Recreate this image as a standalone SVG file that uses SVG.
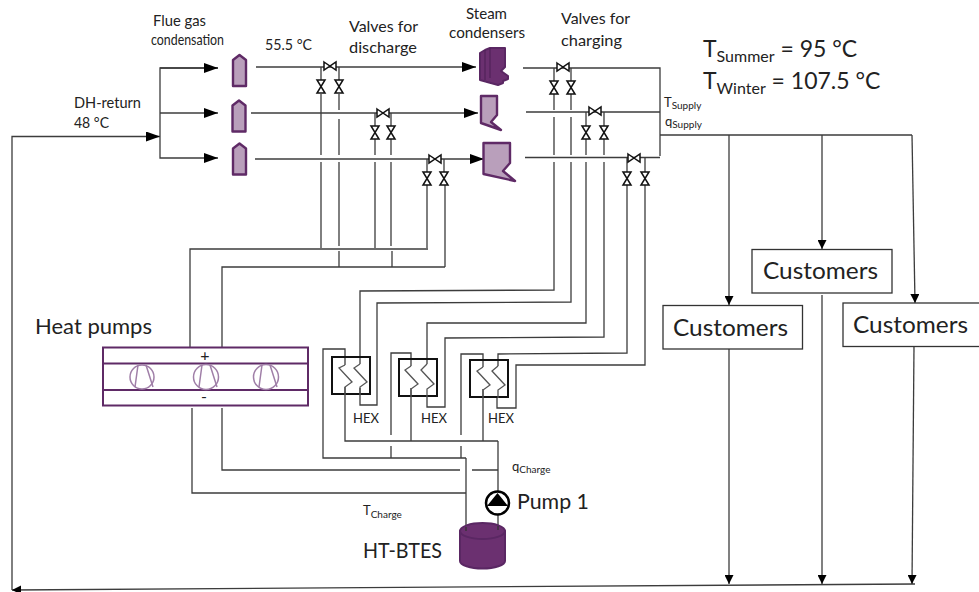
<svg xmlns="http://www.w3.org/2000/svg" xmlns:xlink="http://www.w3.org/1999/xlink" width="979" height="592" viewBox="0 0 979 592">
<style>
text{font-family:"Lato","Noto Sans","Liberation Sans",sans-serif;fill:#222}
.l14{font-size:15px}.l13{font-size:13px}.l19{font-size:21px}.cu{font-size:23px}.big{font-size:23px}.sub{font-size:10px}.subb{font-size:16px}
.c{fill:none;stroke:#3c3c3c;stroke-width:1.3}
.box{fill:#fff;stroke:#333;stroke-width:1.3}
.valve{fill:#fff;stroke:#111;stroke-width:1.5}
.fg{fill:#b99fbb;stroke:#5f2a66;stroke-width:2.4;stroke-linejoin:round}
.dark{fill:#6b3070;stroke:#5a2763;stroke-width:2;stroke-linejoin:round}
.hp{fill:none;stroke:#5f2a66;stroke-width:2}
.cp{fill:none;stroke:#a07fa8;stroke-width:1.5}
.hex{fill:none;stroke:#111;stroke-width:2}
.coil{fill:none;stroke:#555;stroke-width:1.3}
</style>
<defs>
<marker id="a" markerUnits="userSpaceOnUse" markerWidth="14" markerHeight="10" refX="14" refY="5" orient="auto"><path d="M0 0L14 5L0 10Z" fill="#000"/></marker>
<marker id="d" markerUnits="userSpaceOnUse" markerWidth="9" markerHeight="9" refX="9" refY="4.500" orient="auto"><path d="M0 0L9 4.500L0 9Z" fill="#000"/></marker>
<path id="vh" class="valve" d="M-6 -4L6 4V-4L-6 4Z"/>
<path id="vv" class="valve" d="M-4 -6.500L4 -6.500L-4 6.500L4 6.500Z"/>
<path id="fgs" class="fg" d="M-6.500 -10.500L0 -15.500L6.500 -10.500V15.500H-6.500Z"/>
</defs>

<g id="connectors">
<path class="c" d="M915 584L12 590" marker-end="url(#d)"/>
<path class="c" d="M12 590V136.500H160" marker-end="url(#a)"/>
<path class="c" d="M218 68H160V158H218" marker-end="url(#a)"/>
<path class="c" d="M160 68H218" marker-end="url(#a)"/>
<path class="c" d="M160 113H218" marker-end="url(#a)"/>
<path class="c" d="M256 67H476" marker-end="url(#a)"/>
<path class="c" d="M251 113H478" marker-end="url(#a)"/>
<path class="c" d="M255 159H484" marker-end="url(#a)"/>
<path class="c" d="M523 68H660V156M526 112H660M525 157.500H660M660 135H912"/>
<path class="c" d="M729 135V305" marker-end="url(#d)"/>
<path class="c" d="M822 135V249" marker-end="url(#d)"/>
<path class="c" d="M912 135L915 303" marker-end="url(#d)"/>
<path class="c" d="M729 349V584" marker-end="url(#d)"/>
<path class="c" d="M822 295V584" marker-end="url(#d)"/>
<path class="c" d="M914 346L912 584" marker-end="url(#d)"/>
<path class="c" d="M321 67V80M339 67V80M375 113V126M391 113V126M427 159V172M444 159V172"/>
<path class="c" d="M321 94V155M321 162V248M339 94V110M339 119V155M339 162V246M339 251V267M375 139V155M375 162V248M391 139V155M391 162V246M392 251V267M427 185V248M445 185V267"/>
<path class="c" d="M190 347V249H428M222 347V267H445"/>
<path class="c" d="M554 68V81M571 68V81M586 112V126M604 112V126M627 158V172M645 158V172"/>
<path class="c" d="M554 94V110M554 117V155M554 162V290L360 291V364M571 94V110M571 117V155M571 162V302L377 303V405H360V388"/>
<path class="c" d="M586 139V155M586 162V323H427V364M604 139V155M604 162V337L445 338V407H427V396"/>
<path class="c" d="M627 185V353L498 354V366M645 185V365H516V408H497V397"/>
<path class="c" d="M345 365V349H323V458H466M345 387V441H498M411 366V353H391V435M391 446V458M411 388V441M483 367V354H461V435M461 446V458M483 389V441"/>
<path class="c" d="M192 408V493H466M222 408V470H460M472 470H498M466 458V531M498 441V491M498 515V530"/>
</g>

<g id="valves">
<use xlink:href="#vh" x="330" y="66"/><use xlink:href="#vv" x="321" y="86.500"/><use xlink:href="#vv" x="339" y="86.500"/>
<use xlink:href="#vh" x="383" y="113"/><use xlink:href="#vv" x="375" y="132.500"/><use xlink:href="#vv" x="391" y="132.500"/>
<use xlink:href="#vh" x="435" y="159"/><use xlink:href="#vv" x="427" y="178.500"/><use xlink:href="#vv" x="444" y="178.500"/>
<use xlink:href="#vh" x="563" y="67"/><use xlink:href="#vv" x="554" y="87.500"/><use xlink:href="#vv" x="571" y="87.500"/>
<use xlink:href="#vh" x="595" y="111"/><use xlink:href="#vv" x="586" y="132.500"/><use xlink:href="#vv" x="604" y="132.500"/>
<use xlink:href="#vh" x="634" y="158"/><use xlink:href="#vv" x="627" y="178.500"/><use xlink:href="#vv" x="645" y="178.500"/>
</g>

<g id="flue-gas-condensation">
<use xlink:href="#fgs" x="239.500" y="70.500"/>
<use xlink:href="#fgs" x="239" y="116"/>
<use xlink:href="#fgs" x="239.500" y="159"/>
<text class="l14" x="153" y="26" textLength="53" lengthAdjust="spacingAndGlyphs">Flue gas</text>
<text class="l14" x="151" y="45" textLength="73" lengthAdjust="spacingAndGlyphs">condensation</text>
</g>

<g id="steam-condensers">
<path class="dark" d="M480 53L485 50L490 48H505V67L501 71L508 76V79L503 81V83L498 85L480 80Z"/>
<path d="M490 48V78M485 50V80" fill="none" stroke="#4c1f55" stroke-width="1"/>
<path class="fg" d="M481 96H497V115L491 122L501 130L481 123Z"/>
<path class="fg" d="M483.500 143H510V163L503 171L515 181L483.500 174Z"/>
<text class="l14" x="466" y="19" textLength="41" lengthAdjust="spacingAndGlyphs">Steam</text>
<text class="l14" x="449" y="38" textLength="76" lengthAdjust="spacingAndGlyphs">condensers</text>
</g>

<g id="labels">
<text class="l14" x="265" y="50" textLength="47" lengthAdjust="spacingAndGlyphs">55.5 °C</text>
<text class="l14" x="349" y="32" textLength="69" lengthAdjust="spacingAndGlyphs">Valves for</text>
<text class="l14" x="349" y="53" textLength="68" lengthAdjust="spacingAndGlyphs">discharge</text>
<text class="l14" x="561" y="24" textLength="69" lengthAdjust="spacingAndGlyphs">Valves for</text>
<text class="l14" x="561" y="46" textLength="61" lengthAdjust="spacingAndGlyphs">charging</text>
<text class="l14" x="74" y="108" textLength="67" lengthAdjust="spacingAndGlyphs">DH-return</text>
<text class="l14" x="74" y="128" textLength="35" lengthAdjust="spacingAndGlyphs">48 °C</text>
<text class="l13" x="664" y="107">T<tspan class="sub" dy="2">Supply</tspan></text>
<text class="l13" x="665" y="126">q<tspan class="sub" dy="2">Supply</tspan></text>
<text class="big" x="703" y="57">T<tspan class="subb" dy="5">Summer</tspan><tspan dy="-5"> = 95 °C</tspan></text>
<text class="big" x="703" y="89">T<tspan class="subb" dy="5">Winter</tspan><tspan dy="-5"> = 107.5 °C</tspan></text>
<text class="l13" x="512" y="471">q<tspan class="sub" dy="2">Charge</tspan></text>
<text class="l13" x="363" y="515">T<tspan class="sub" dy="3">Charge</tspan></text>
</g>

<g id="heat-pumps">
<rect class="hp" x="103" y="347.500" width="205" height="58"/>
<path class="hp" d="M103 363.500H308M103 390H308"/>
<g id="compressors">
<circle class="cp" cx="142" cy="377" r="12"/><path class="cp" d="M138 365L135 387M146 365L153 387"/>
<circle class="cp" cx="206" cy="377" r="12.500"/><path class="cp" d="M202 365L199 387M210 365L217 387"/>
<circle class="cp" cx="266" cy="377" r="12.500"/><path class="cp" d="M262 365L259 387M270 365L277 387"/>
</g>
<text x="205" y="361" font-size="16" text-anchor="middle">+</text>
<text x="204" y="402" font-size="16" text-anchor="middle">-</text>
<text class="l19" x="35" y="334" textLength="117" lengthAdjust="spacingAndGlyphs">Heat pumps</text>
</g>

<g id="hex-1">
<rect class="hex" x="332" y="357" width="38" height="37"/>
<path class="coil" d="M345 365L339 368L352 382L345 387V395M360 364L354 368L367 382L360 387V395"/>
<text class="l13" x="353" y="423" textLength="26" lengthAdjust="spacingAndGlyphs">HEX</text>
</g>
<g id="hex-2">
<rect class="hex" x="399" y="359" width="38" height="37"/>
<path class="coil" d="M411 366L405 370L418 384L411 389V397M427 364L421 370L434 384L427 389V397"/>
<text class="l13" x="421" y="423" textLength="26" lengthAdjust="spacingAndGlyphs">HEX</text>
</g>
<g id="hex-3">
<rect class="hex" x="470" y="360" width="38" height="37"/>
<path class="coil" d="M483 367L477 371L490 385L483 390V398M498 366L492 371L505 385L498 390V398"/>
<text class="l13" x="488" y="423" textLength="26" lengthAdjust="spacingAndGlyphs">HEX</text>
</g>

<g id="pump-1">
<circle cx="497.500" cy="503" r="11.500" fill="#fff" stroke="#000" stroke-width="2.500"/>
<path d="M497.500 493L508 506H487Z" fill="#000"/>
<text class="l19" x="517" y="509" textLength="72" lengthAdjust="spacingAndGlyphs">Pump 1</text>
</g>

<g id="ht-btes">
<path class="dark" d="M460 531V561C460 565 470 568.500 482.500 568.500S505 565 505 561V531Z"/>
<ellipse class="dark" cx="482.500" cy="531" rx="22.500" ry="8"/>
<path d="M466 531V527M498 530V526" stroke="#333" stroke-width="1.300" fill="none"/>
<text class="l19" x="363" y="558" textLength="79" lengthAdjust="spacingAndGlyphs">HT-BTES</text>
</g>

<g id="customers-1"><rect class="box" x="663" y="305.500" width="139.500" height="43.500"/><text class="cu" x="673" y="336" textLength="115" lengthAdjust="spacingAndGlyphs">Customers</text></g>
<g id="customers-2"><rect class="box" x="752" y="249.500" width="140" height="43.500"/><text class="cu" x="763" y="279" textLength="115" lengthAdjust="spacingAndGlyphs">Customers</text></g>
<g id="customers-3"><rect class="box" x="843" y="303" width="137" height="43.500"/><text class="cu" x="853" y="333" textLength="115" lengthAdjust="spacingAndGlyphs">Customers</text></g>
</svg>
